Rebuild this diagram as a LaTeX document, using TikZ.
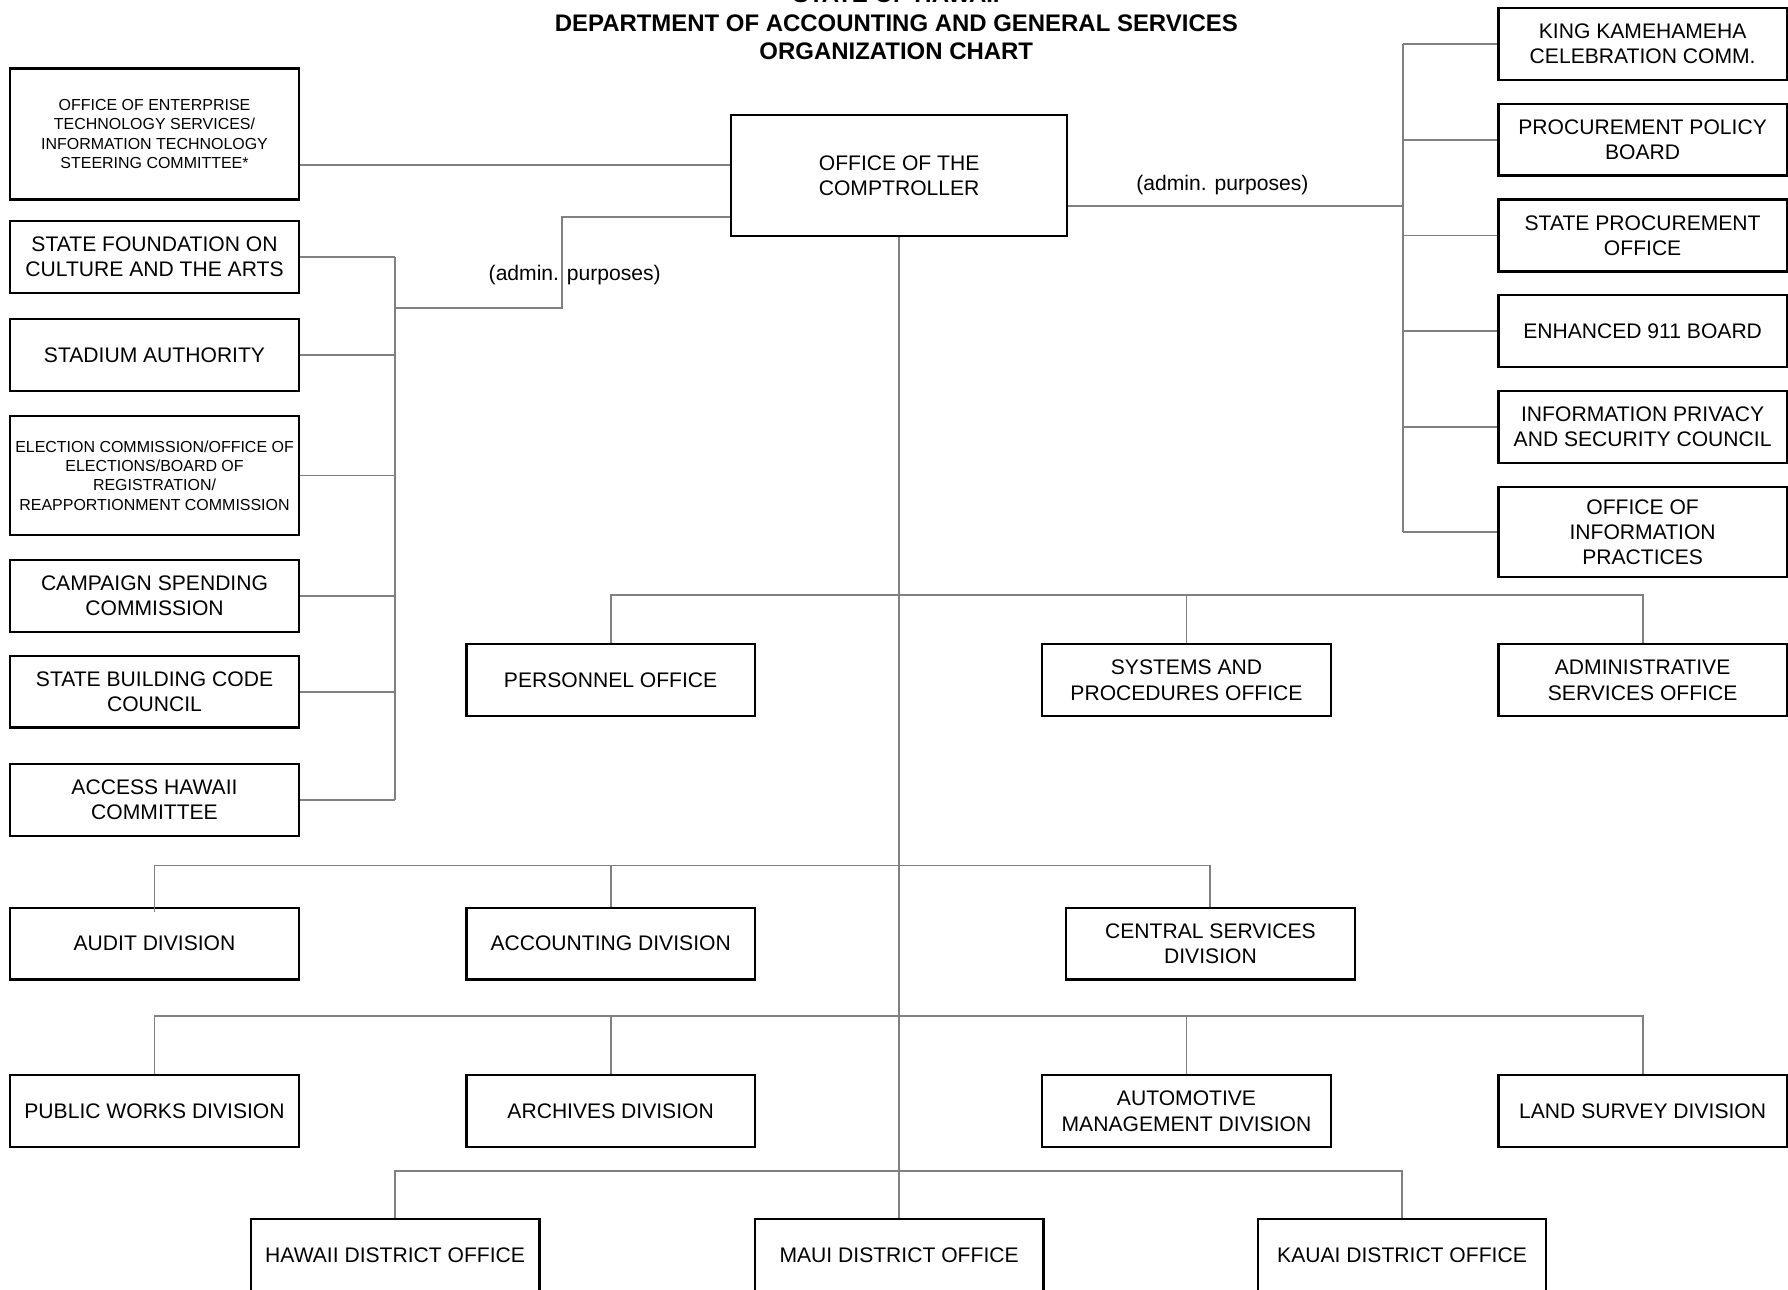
\documentclass[tikz,border=0pt]{standalone}
\usepackage{fontspec}
\setmainfont{Liberation Sans}
\usetikzlibrary{positioning}

\begin{document}
\begin{tikzpicture}[x=0.5pt,y=-0.5pt,node distance=42pt,on grid,
		unit/.style={rectangle,draw=black,line width=1pt,inner sep=1pt,minimum width=126.5pt,minimum height=31.5pt,align=center,font=\fontsize{9.25}{11}\selectfont},
		smallunit/.style={unit,font=\fontsize{7}{8.5}\selectfont},
		link/.style={draw=black!50,line width=0.85pt},
		note/.style={inner sep=0pt,font=\fontsize{9.25}{11}\selectfont}]
		\clip (0,0) rectangle (1568,1131);
		\node[align=center,font=\fontsize{10.5}{12.5}\selectfont\bfseries] (title) at (786,20)
			{STATE OF HAWAII\\DEPARTMENT OF ACCOUNTING AND GENERAL SERVICES\\ORGANIZATION CHART};
		
		\node[unit,minimum width=147.5pt,minimum height=53pt] (comp) at (788.5,154) {OFFICE OF THE\\COMPTROLLER};
		
		\node[smallunit,minimum height=57.5pt] (oets) at (135.5,117.5) {OFFICE OF ENTERPRISE\\TECHNOLOGY SERVICES/\\INFORMATION TECHNOLOGY\\STEERING COMMITTEE*};
		\node[unit]  (sfca)  at (135.5,225.5)  {STATE FOUNDATION ON\\CULTURE AND THE ARTS};
		\node[unit]  (stad)  at (135.5,311.5)  {STADIUM AUTHORITY};
		\node[smallunit,minimum height=52pt] (elec) at (135.5,417) {ELECTION COMMISSION/OFFICE OF\\ELECTIONS/BOARD OF\\REGISTRATION/\\REAPPORTIONMENT COMMISSION};
		\node[unit]  (camp)  at (135.5,522.5)  {CAMPAIGN SPENDING\\COMMISSION};
		\node[unit]  (bldg)  at (135.5,606.5)  {STATE BUILDING CODE\\COUNCIL};
		\node[unit]  (acc)   at (135.5,701.5)  {ACCESS HAWAII\\COMMITTEE};
		
		\node[unit]  (king)  at (1440.5,38.5)  {KING KAMEHAMEHA\\CELEBRATION COMM.};
		\node[unit]  (ppb)   [below=of king]   {PROCUREMENT POLICY\\BOARD};
		\node[unit]  (spo)   [below=of ppb]    {STATE PROCUREMENT\\OFFICE};
		\node[unit]  (e911)  [below=of spo]    {ENHANCED 911 BOARD};
		\node[unit]  (ipsc)  [below=of e911]   {INFORMATION PRIVACY\\AND SECURITY COUNCIL};
		\node[unit,minimum height=39.5pt] (oip) [below=46pt of ipsc] {OFFICE OF\\INFORMATION\\PRACTICES};
		
		\node[unit]  (pers)  at (535.5,596.5)  {PERSONNEL OFFICE};
		\node[unit]  (sys)   at (1040.5,596.5) {SYSTEMS AND\\PROCEDURES OFFICE};
		\node[unit]  (adm)   at (1440.5,596.5) {ADMINISTRATIVE\\SERVICES OFFICE};
		
		\node[unit]  (audit) at (135.5,827.5)  {AUDIT DIVISION};
		\node[unit]  (acctg) at (535.5,827.5)  {ACCOUNTING DIVISION};
		\node[unit]  (csd)   at (1061.5,827.5) {CENTRAL SERVICES\\DIVISION};
		
		\node[unit]  (pwd)   at (135.5,974.5)  {PUBLIC WORKS DIVISION};
		\node[unit]  (arch)  at (535.5,974.5)  {ARCHIVES DIVISION};
		\node[unit]  (amd)   at (1040.5,974.5) {AUTOMOTIVE\\MANAGEMENT DIVISION};
		\node[unit]  (lsd)   at (1440.5,974.5) {LAND SURVEY DIVISION};
		
		\node[unit]  (hdo)   at (346.5,1100.5) {HAWAII DISTRICT OFFICE};
		\node[unit]  (mdo)   at (788.5,1100.5) {MAUI DISTRICT OFFICE};
		\node[unit]  (kdo)   at (1229.5,1100.5) {KAUAI DISTRICT OFFICE};
		
		\node[note]  (admL)  at (504,241)      {(admin. purposes)};
		\node[note]  (admR)  at (1072,162)     {(admin. purposes)};
		
		\coordinate (cw1)  at ([yshift=4.5pt]comp.west);
		\coordinate (cw2)  at ([yshift=-18pt]comp.west);
		\coordinate (ce)   at ([yshift=-13.5pt]comp.east);
		\coordinate (jog)  at (493,270);
		\coordinate (lbus) at (346,270);
		\coordinate (rbus) at (1230,181);
		\coordinate (r1)   at (788.5,522);
		\coordinate (r2)   at (788.5,759);
		\coordinate (r3)   at (788.5,891);
		\coordinate (r4)   at (788.5,1027);
		
		\draw[link] (cw1) -- (cw1 -| oets.east);
		\draw[link] (cw2) -| (jog) -- (lbus);
		\draw[link] (sfca.east -| lbus) -- (acc.east -| lbus);
		\foreach \n in {sfca,stad,elec,camp,bldg,acc}
			\draw[link] (\n.east) -- (\n.east -| lbus);
		
		\draw[link] (ce) -- (rbus);
		\draw[link] (king.west -| rbus) -- (oip.west -| rbus);
		\foreach \n in {king,ppb,spo,e911,ipsc,oip}
			\draw[link] (\n.west) -- (\n.west -| rbus);
		
		\draw[link] (comp.south) -- (mdo.north);
		\draw[link] (pers.north) |- (r1) -| (adm.north);
		\draw[link] (sys.north) -- (sys.north |- r1);
		\draw[link] ([yshift=-2.5pt]audit.north) |- (r2) -| (csd.north);
		\draw[link] (acctg.north) -- (acctg.north |- r2);
		\draw[link] (pwd.north) |- (r3) -| (lsd.north);
		\draw[link] (arch.north) -- (arch.north |- r3);
		\draw[link] (amd.north) -- (amd.north |- r3);
		\draw[link] (hdo.north) |- (r4) -| (kdo.north);
\end{tikzpicture}
\end{document}
